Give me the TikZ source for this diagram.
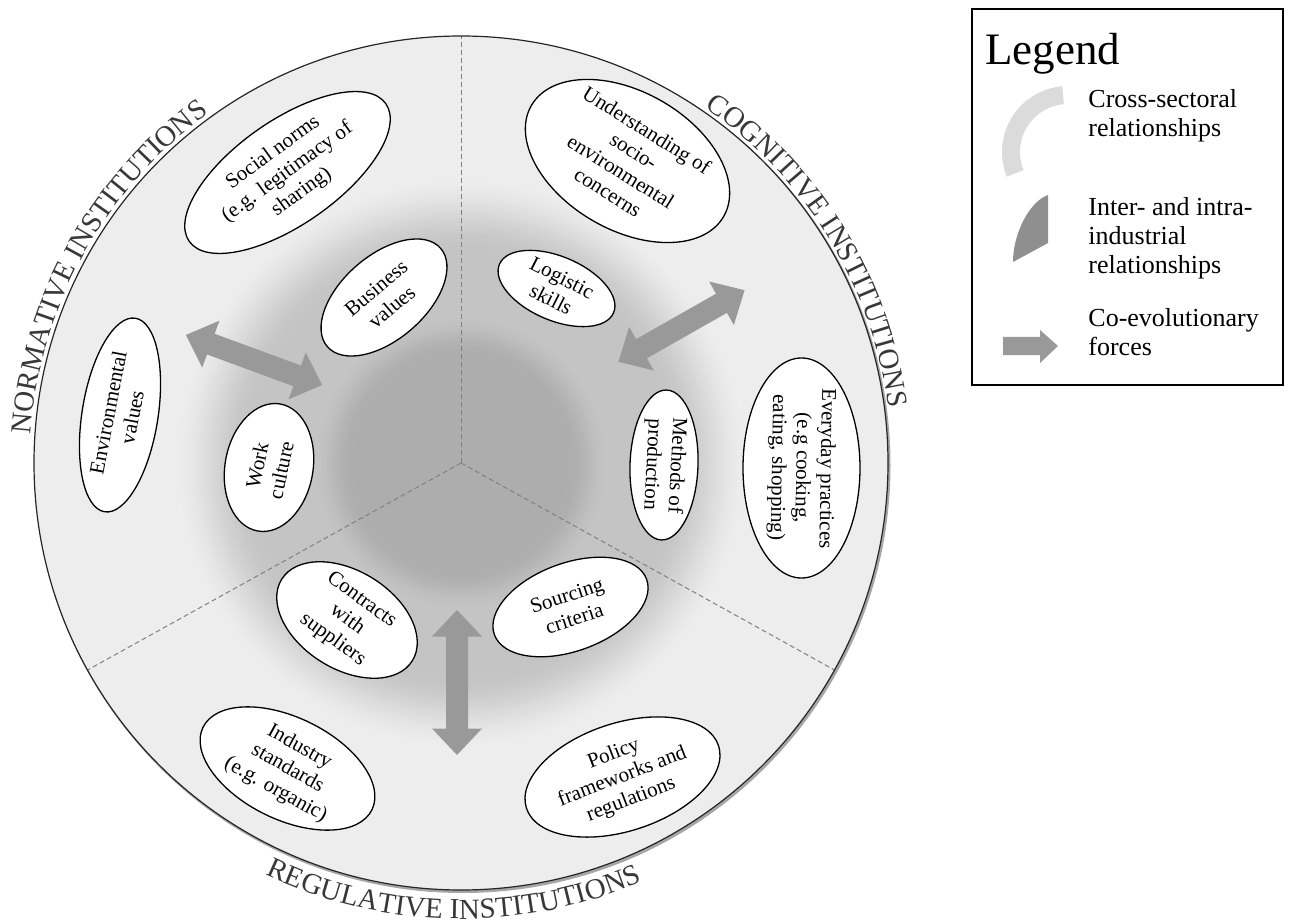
\documentclass[tikz,border=0pt]{standalone}
\usepackage{fontspec}
\setmainfont{Liberation Serif}
\usetikzlibrary{shapes.geometric,decorations.text,calc}
\definecolor{discbg}{gray}{0.93}
\definecolor{arrowfill}{gray}{0.6}
\definecolor{dashcol}{gray}{0.5}
\definecolor{lightarc}{gray}{0.86}
\definecolor{darksect}{gray}{0.56}
\definecolor{labelcol}{gray}{0.22}
\newcommand\curvedfont{\fontsize{14.5}{14.5}\selectfont\color{labelcol}}
\newcommand\dblarr[2]{\fill[arrowfill, shift={(#1)}, rotate=#2] (-72.5,0) -- (-46,25) -- (-46,11) -- (46,11) -- (46,25) -- (72.5,0) -- (46,-25) -- (46,-11) -- (-46,-11) -- (-46,-25) -- cycle;}
\tikzset{
  ell/.style={ellipse, draw=black, line width=0.65pt, fill=white, inner sep=0pt},
  ltxt/.style={align=center, font=\fontsize{10.5}{12.2}\selectfont, inner sep=0pt},
  sector/.style={draw=dashcol, line width=0.5pt, dash pattern=on 2.5pt off 1.5pt},
  legtxt/.style={align=left, anchor=north west, inner sep=0pt, font=\fontsize{13}{14.5}\selectfont},
}
\begin{document}
\begin{tikzpicture}[x=0.5pt,y=0.5pt]
\useasboundingbox (0,0) rectangle (1291,923);
\coordinate (c) at (461,460);
% disc
\fill[black!35] ($(c)+(1.5,-2)$) circle (428);
\fill[discbg] (c) circle (427);
\foreach \r in {290,288,...,2} {
  \pgfmathsetmacro\ta{min(max((\r-212)/78,0),1)}
  \pgfmathsetmacro\tb{min(max((\r-108)/42,0),1)}
  \pgfmathsetmacro\gv{0.93-0.08*(1+cos(180*\ta))-0.045*(1+cos(180*\tb))}
  \definecolor{shc}{gray}{\gv}
  \fill[shc] (c) circle (\r);
}
\draw[sector] (c) -- ($(c)+(90:427)$);
\draw[sector] (c) -- ($(c)+(209:427)$);
\draw[sector] (c) -- ($(c)+(331:427)$);
\draw[line width=0.6pt, black!85] (c) circle (427);

% curved labels
\path[decorate, decoration={text along path, text align=center, text={|\curvedfont|NORMATIVE INSTITUTIONS}}]
  ($(c)+(188:431)$) arc[start angle=188, end angle=114, radius=431];
\path[decorate, decoration={text along path, text align=center, text={|\curvedfont|COGNITIVE INSTITUTIONS}}]
  ($(c)+(68:431)$) arc[start angle=68, end angle=-5, radius=431];
\path[decorate, decoration={text along path, text align=center, text={|\curvedfont|REGULATIVE INSTITUTIONS}}]
  ($(c)+(231:456)$) arc[start angle=231, end angle=307, radius=456];

% ellipses
\node[ell, minimum width=120pt, minimum height=52pt, rotate=35] (soc) at (287.5,750.5) {};
\node[ltxt, rotate=36] (soct) at (soc) {Social norms\\(e.g. legitimacy of\\sharing)};
\node[ell, minimum width=75pt, minimum height=42pt, rotate=41] (bus) at (384,625.5) {};
\node[ltxt, rotate=40] (bust) at (bus) {Business\\values};
\node[ell, minimum width=98pt, minimum height=38pt, rotate=81] (env) at (120,508) {};
\node[ltxt, rotate=79] (envt) at (env) {Environmental\\values};
\node[ell, minimum width=64.5pt, minimum height=44pt, rotate=80] (work) at (269,455.5) {};
\node[ltxt, rotate=78] (workt) at (work) {Work\\culture};
\node[ell, minimum width=111pt, minimum height=69pt, rotate=-30] (und) at (627.5,762) {};
\node[ltxt, rotate=-32] (undt) at (und) {Understanding of\\socio-\\environmental\\concerns};
\node[ell, minimum width=62pt, minimum height=32pt, rotate=-23] (log) at (556.5,634.5) {};
\node[ltxt, rotate=-27] (logt) at (log) {Logistic\\skills};
\node[ell, minimum width=75pt, minimum height=34pt, rotate=-92] (meth) at (664,458) {};
\node[ltxt, rotate=-93] (metht) at (meth) {Methods of\\production};
\node[ell, minimum width=110pt, minimum height=58.5pt, rotate=-90] (every) at (801.5,455) {};
\node[ltxt, rotate=-91] (everyt) at (every) {Everyday practices\\(e.g cooking,\\eating, shopping)};
\node[ell, minimum width=77pt, minimum height=49pt, rotate=-32] (contr) at (347,303) {};
\node[ltxt, rotate=-36] (contrt) at (contr) {Contracts\\with\\suppliers};
\node[ell, minimum width=81pt, minimum height=44pt, rotate=20] (sourc) at (570.5,316) {};
\node[ltxt, rotate=18] (sourct) at (sourc) {Sourcing\\criteria};
\node[ell, minimum width=94pt, minimum height=51pt, rotate=-26] (indus) at (287.5,154.5) {};
\node[ltxt, rotate=-29] (indust) at (indus) {Industry\\standards\\(e.g. organic)};
\node[ell, minimum width=101pt, minimum height=54pt, rotate=18] (pol) at (622.5,146) {};
\node[ltxt, rotate=21] (polt) at (pol) {Policy\\frameworks and\\regulations};

% co-evolutionary arrows
\coordinate (aA) at (254,563);
\coordinate (aB) at (681.5,597);
\coordinate (aC) at (457,240.5);
\dblarr{aA}{-20.2}
\dblarr{aB}{29.6}
\dblarr{aC}{90}

% legend
\draw[line width=0.6pt] (972,538) rectangle (1283,914);
\node[anchor=north west, inner sep=0pt, font=\fontsize{22.5}{22.5}\selectfont] (legt) at (985,890) {Legend};
\coordinate (la) at (1068,771);
\fill[lightarc] ($(la)+(95:66)$) arc[start angle=95, end angle=202, radius=66] -- ($(la)+(202:48)$) arc[start angle=202, end angle=95, radius=48] -- cycle;
\fill[darksect] (1048,728) -- (1048,680) -- (1013,661) .. controls (1013,690) and (1030,722) .. (1048,728) -- cycle;
\fill[arrowfill] (1003,568) -- (1040,568) -- (1040,560) -- (1058,577) -- (1040,593) -- (1040,586) -- (1003,586) -- cycle;
\node[legtxt] (l1) at (1088,834) {Cross-sectoral\\relationships};
\node[legtxt] (l2) at (1088,726) {Inter- and intra-\\industrial\\relationships};
\node[legtxt] (l3) at (1088,615) {Co-evolutionary\\forces};
\end{tikzpicture}
\end{document}
